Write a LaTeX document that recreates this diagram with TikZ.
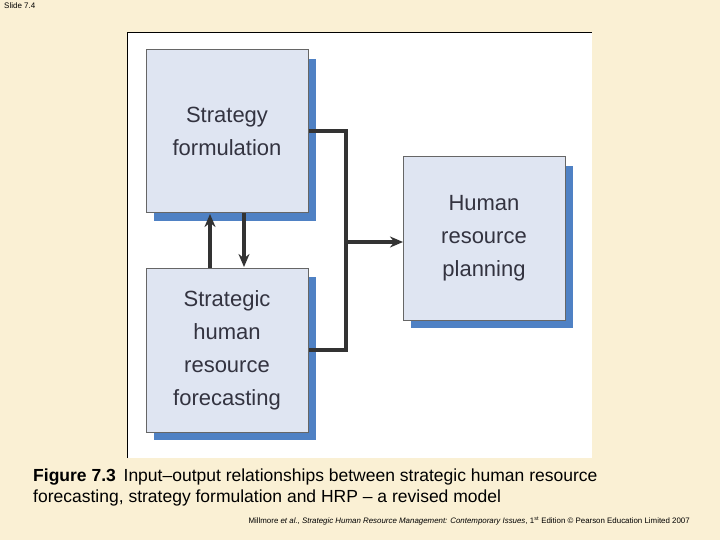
\documentclass[tikz,border=0pt]{standalone}
\usepackage{fontspec}
\setmainfont{Liberation Sans}
\usetikzlibrary{arrows.meta}
\definecolor{cream}{HTML}{FAF0D4}
\definecolor{boxfill}{HTML}{DFE5F2}
\definecolor{shadowc}{HTML}{4F81C4}
\definecolor{linec}{HTML}{333333}
\definecolor{txt}{HTML}{333340}
\begin{document}
\begin{tikzpicture}[x=1pt,y=-1pt,
  mainbox/.style={fill=boxfill,draw=gray!80!black,line width=1pt},
  boxtext/.style={font=\fontsize{22}{33}\selectfont,text=txt,align=center},
  conn/.style={draw=linec,line width=3.5pt},
  arr/.style={conn,-{Stealth[length=13pt,width=11pt]}}]
\fill[cream] (0,0) rectangle (720,540);
\useasboundingbox (0,0) rectangle (720,540);
\node[anchor=north west,inner sep=0pt,font=\fontsize{8}{9}\selectfont] (slide) at (4,3) {Slide 7.4};
\fill[white] (127,32) rectangle (592,458);
\draw[black,line width=0.8pt] (127,458) -- (127,32) -- (592,32);
% shadows
\fill[shadowc] (154,59) rectangle (316,221);
\fill[shadowc] (154,277) rectangle (316,440);
\fill[shadowc] (411,166) rectangle (573,328);
% boxes
\draw[mainbox] (146,50) rectangle (308,213);
\node[boxtext] (sf) at (227,131.5) {Strategy\\formulation};
\draw[mainbox] (146,268) rectangle (308,432);
\node[boxtext] (shrf) at (227,350) {Strategic\\human\\resource\\forecasting};
\draw[mainbox] (403,157) rectangle (565,320);
\node[boxtext] (hrp) at (484,238.5) {Human\\resource\\planning};
\coordinate (b1r) at (308.5,131);
\coordinate (b2r) at (308.5,350);
\coordinate (j) at (346,242);
\coordinate (b3l) at (403,242);
\draw[conn] (b1r) -- (346,131) -- (346,350) -- (b2r);
\draw[arr] (j) -- (b3l);
\draw[arr] (210,268) -- (210,214);
\draw[arr] (244,213) -- (244,267);
\node[anchor=west,inner sep=0pt,font=\fontsize{17.5}{21}\selectfont] (cap1) at (33,477) {\textbf{Figure 7.3}\, Input–output relationships between strategic human resource};
\node[anchor=west,inner sep=0pt,font=\fontsize{17.5}{21}\selectfont] (cap2) at (33,498) {forecasting, strategy formulation and HRP – a revised model};
\node[anchor=east,inner sep=0pt,font=\fontsize{7.9}{9}\selectfont] (foot) at (690,521) {Millmore \textit{et al.}, \textit{Strategic Human Resource Management: Contemporary Issues}, 1\textsuperscript{st} Edition © Pearson Education Limited 2007};
\end{tikzpicture}
\end{document}
